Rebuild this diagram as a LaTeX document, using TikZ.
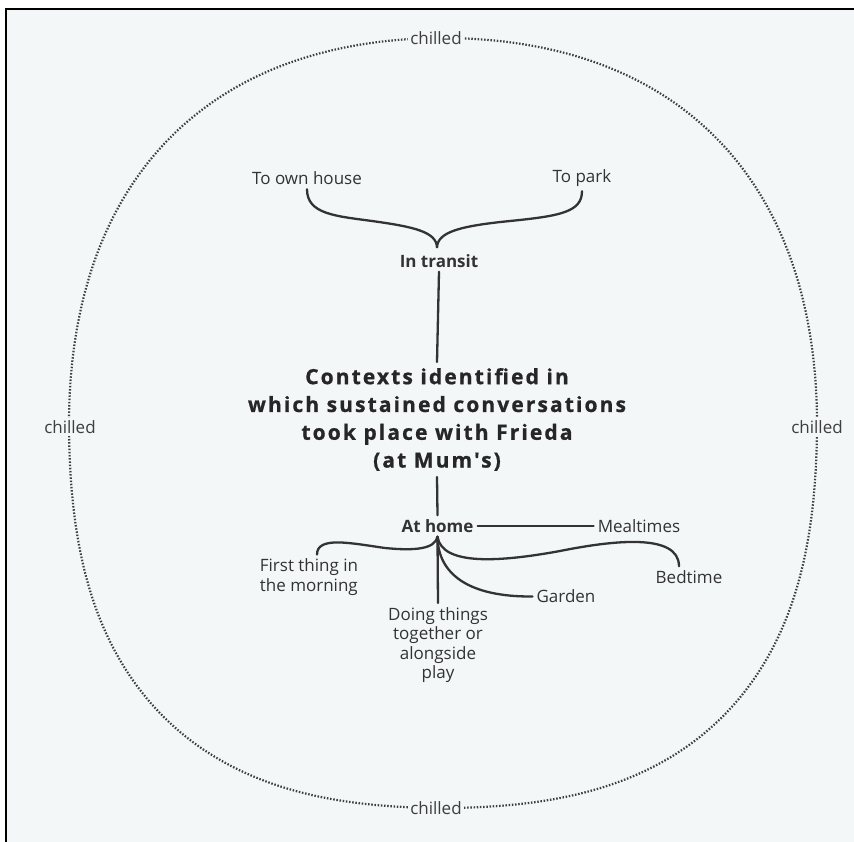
\documentclass[tikz,border=0pt]{standalone}
\usepackage{fontspec}
\setmainfont{Open Sans}
\newfontfamily\titlefont[LetterSpace=10, FakeBold=0.8]{Open Sans}
\definecolor{paper}{HTML}{F4F7F7}
\definecolor{ink}{HTML}{333333}
\definecolor{dotgrey}{HTML}{3E3E3E}

\begin{document}
\begin{tikzpicture}[x=1pt,y=-1pt,
  leaf/.style={font=\fontsize{17}{19.5}\selectfont, text=ink, inner sep=4pt, align=center},
  hub/.style={font=\fontsize{17}{19.5}\selectfont\bfseries, text=ink, inner sep=4pt},
  core/.style={font=\titlefont\fontsize{21}{27.8}\selectfont\bfseries, text=black!85, inner sep=6pt, align=center},
  mood/.style={font=\fontsize{17}{19.5}\selectfont, text=dotgrey, fill=paper, inner sep=2pt},
  link/.style={draw=ink, line width=2.3pt, line cap=round},
  boundary/.style={draw=dotgrey, line width=2.2pt, dash pattern=on 1.5pt off 1.7pt}]

\useasboundingbox (0,0) rectangle (854,842);
% page and frame
\fill[white] (0,0) rectangle (854,842);
\fill[paper] (6,9) rectangle (854,842);
\draw[line width=2pt, black] (6,842) -- (6,9) -- (854,9);

% dotted boundary: an ellipse pushed slightly outwards on the diagonals,
% a little more in the lower half than in the upper half
\draw[boundary] plot[domain=0:180, samples=181]
  ({443+374*cos(\x)*(1+0.04*sin(2*\x)^2)}, {423-385*sin(\x)*(1+0.04*sin(2*\x)^2)});
\draw[boundary] plot[domain=180:360, samples=181]
  ({443+374*cos(\x)*(1+0.068*sin(2*\x)^2)}, {423-385*sin(\x)*(1+0.068*sin(2*\x)^2)});

\node[mood] (mtop) at (436,38) {chilled};
\node[mood] (mbot) at (436,808) {chilled};
\node[mood] (mleft) at (70,427) {chilled};
\node[mood] (mright) at (817,427) {chilled};

% nodes
\node[leaf] (house) at (307,178.5) {To own house};
\node[leaf] (park) at (582,178.5) {To park};
\node[hub] (transit) at (439,261) {In transit};
\coordinate (tipT) at (437,248);
\node[core] (title) at (437,419.5) {Contexts identified in\\which sustained conversations\\took place with Frieda\\(at Mum's)};
\node[hub] (home) at (437.5,526) {At home};
\node[leaf] (meal) at (639,526) {Mealtimes};
\node[leaf, align=left] (first) at (309,577) {First thing in\\the morning};
\node[leaf] (bed) at (689,577) {Bedtime};
\node[leaf] (garden) at (566,596.5) {Garden};
\node[leaf] (doing) at (438,645) {Doing things\\together or\\alongside\\play};

% connectors
\draw[link] (house.south) .. controls (307,214) and (335,216) .. (372,221)
  .. controls (415,227) and (437,232) .. (tipT)
  .. controls (437,232) and (460,226) .. (510,221)
  .. controls (560,216) and (582,212) .. (park.south);
\draw[link] (transit.south) -- (title.north);
\draw[link] (title.south) -- (home.north);
\draw[link] (home.east) -- (meal.west);
\draw[link] (home.south) .. controls (435,549) and (415,551) .. (385,548)
  .. controls (350,543) and (317,536) .. ([xshift=8pt]first.north);
\draw[link] (home.south) .. controls (442,566) and (500,562) .. (560,551)
  .. controls (610,541) and (679,532) .. ([xshift=-10pt]bed.north);
\draw[link] (home.south) .. controls (438,575) and (470,597) .. (garden.west);
\draw[link] (home.south) -- (doing.north);
\end{tikzpicture}
\end{document}
